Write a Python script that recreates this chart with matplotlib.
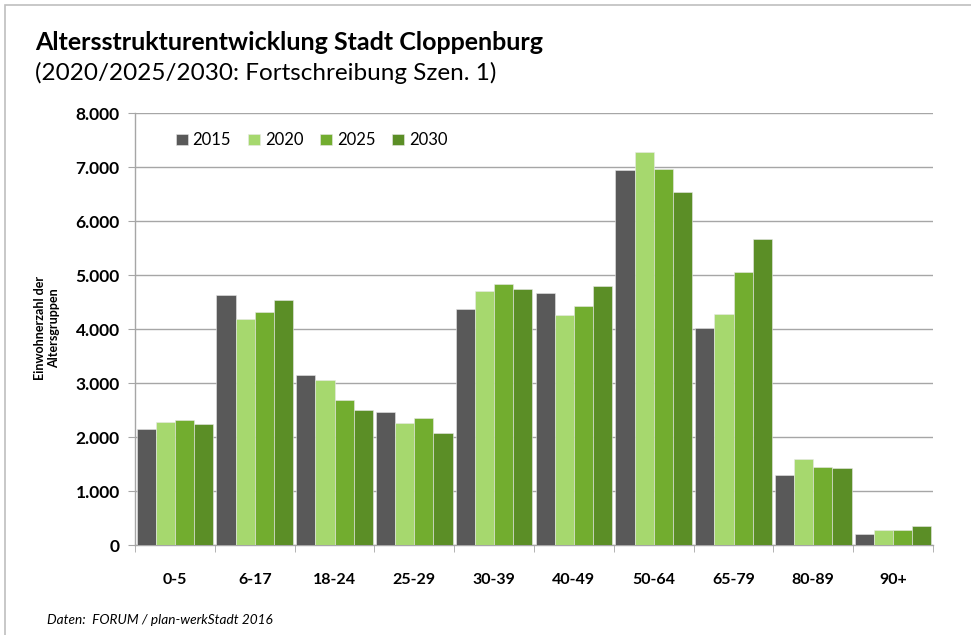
import matplotlib.pyplot as plt
import numpy as np
from matplotlib.patches import Rectangle
from matplotlib.ticker import FuncFormatter, FixedLocator

plt.rcParams['font.family'] = ['Lato', 'DejaVu Sans']

groups = ['0-5', '6-17', '18-24', '25-29', '30-39', '40-49', '50-64', '65-79', '80-89', '90+']
years = ['2015', '2020', '2025', '2030']
v2015 = [2150, 4630, 3150, 2460, 4365, 4665, 6950, 4010, 1290, 205]
v2020 = [2270, 4190, 3055, 2265, 4700, 4255, 7280, 4285, 1595, 270]
v2025 = [2310, 4320, 2680, 2345, 4825, 4430, 6960, 5055, 1440, 285]
v2030 = [2235, 4545, 2495, 2070, 4735, 4800, 6530, 5660, 1420, 350]
colors = ['#595959', '#a6d86e', '#72ad2f', '#5b8e26']

fig = plt.figure(figsize=(9.71, 6.35), dpi=100)
fig.patches.append(Rectangle((5/971, -0.1), 1.2, (635-5)/635 + 0.1, transform=fig.transFigure,
                             fill=False, edgecolor='#bfbfbf', linewidth=1.2))

ax = fig.add_axes([135/971, 1-545/635, (933-135)/971, (545-113)/635])
x = np.arange(len(groups))
w = 0.24
for i, (vals, c, yr) in enumerate(zip([v2015, v2020, v2025, v2030], colors, years)):
    ax.bar(x + (i - 1.5) * w, vals, w, color=c, edgecolor='#e8e8e8', linewidth=0.4, label=yr, zorder=3)

ax.set_xlim(-0.5, len(groups) - 0.5)
ax.set_ylim(0, 8000)
ax.yaxis.set_major_locator(FixedLocator(range(0, 8001, 1000)))
ax.yaxis.set_major_formatter(FuncFormatter(lambda v, p: '0' if v == 0 else f'{int(v):,}'.replace(',', '.')))
ax.grid(axis='y', color='#a6a6a6', linewidth=1.0, zorder=0)
ax.set_xticks(x)
ax.set_xticklabels(groups, fontsize=11.5, fontweight='bold')
ax.set_xticks(np.arange(-0.5, len(groups)), minor=True)
ax.tick_params(axis='x', which='major', length=0, pad=20)
ax.tick_params(axis='x', which='minor', length=5, color='#a6a6a6')
ax.tick_params(axis='y', length=5, color='#a6a6a6', labelsize=12.5, pad=6)
for lbl in ax.get_yticklabels():
    lbl.set_fontweight('bold')
for s in ['top', 'right']:
    ax.spines[s].set_visible(False)
for s in ['left', 'bottom']:
    ax.spines[s].set_color('#a6a6a6')
    ax.spines[s].set_linewidth(1.0)

ax.legend(loc='upper left', bbox_to_anchor=(0.032, 0.99), ncol=4, frameon=False,
          fontsize=12, handlelength=0.72, handleheight=0.72, handletextpad=0.3, columnspacing=1.0)

fig.text(35/971, 1-42/635, 'Altersstrukturentwicklung Stadt Cloppenburg', fontsize=18, fontweight='bold', va='center')
fig.text(35/971, 1-73/635, '(2020/2025/2030: Fortschreibung Szen. 1)', fontsize=17.5, va='center')
fig.text(47/971, 1-328/635, 'Einwohnerzahl der\nAltersgruppen', fontsize=9, fontweight='bold',
         rotation=90, ha='center', va='center', multialignment='center')
fig.text(47/971, 1-620/635, 'Daten:  FORUM / plan-werkStadt 2016', fontsize=9.8, style='italic', va='center')

fig.savefig('out.png', dpi=100)
